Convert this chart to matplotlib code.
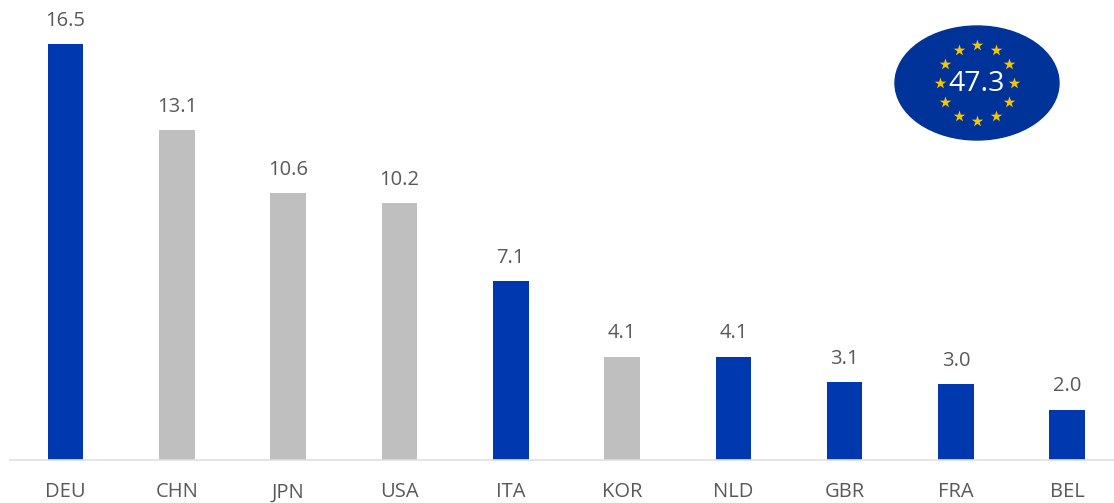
#!/usr/bin/env python3
# Bar chart of country values with EU badge
import numpy as np
import matplotlib
matplotlib.use('Agg')
import matplotlib.pyplot as plt
from matplotlib.patches import Ellipse

countries = ['DEU', 'CHN', 'JPN', 'USA', 'ITA', 'KOR', 'NLD', 'GBR', 'FRA', 'BEL']
values = [16.5, 13.1, 10.6, 10.2, 7.1, 4.1, 4.1, 3.1, 3.0, 2.0]
is_eu = [True, False, False, False, True, False, True, True, True, True]
eu_total = '47.3'

BLUE = '#0038B0'
GREY = '#BFBFBF'
NAVY = '#003399'
W, H = 1114, 503

plt.rcParams['font.family'] = ['Open Sans', 'DejaVu Sans']

fig = plt.figure(figsize=(W / 100, H / 100), dpi=100)
# axes spans x 9..1114 px and bar baseline sits at y=460 px
ax = fig.add_axes([10 / W, (H - 460) / H, (W - 10) / W, 460 / H])
ax.set_xlim(-0.5, 9.42)
ax.set_ylim(0, 16.5 * 460 / 416)

colors = [BLUE if e else GREY for e in is_eu]
ax.bar(range(len(values)), values, width=0.32, color=colors)

for i, v in enumerate(values):
    ax.annotate('%.1f' % v, (i, v), xytext=(0, 9.5), textcoords='offset points',
                ha='center', va='bottom', fontsize=14.5, color='#595959')

ax.set_xticks(range(len(countries)))
ax.set_xticklabels(countries, fontsize=14.5, color='#595959')
ax.tick_params(axis='x', length=0, pad=16)
ax.set_yticks([])
for s in ['top', 'left', 'right']:
    ax.spines[s].set_visible(False)
ax.spines['bottom'].set_color('#E0E0E0')
ax.spines['bottom'].set_linewidth(1.2)

# EU badge in pixel coordinates
badge = fig.add_axes([0, 0, 1, 1])
badge.set_xlim(0, W)
badge.set_ylim(H, 0)
badge.axis('off')
cx, cy = 977, 83
badge.add_patch(Ellipse((cx, cy), 164, 114, color=NAVY))
angles = np.deg2rad(np.arange(0, 360, 30))
badge.scatter(cx + 37 * np.cos(angles), cy + 38 * np.sin(angles), marker='*', s=75,
              color='#F7C600', linewidths=0)
badge.text(cx, cy + 1, eu_total, color='white', fontsize=20.5, ha='center', va='center')

fig.savefig('out.png', dpi=100)
